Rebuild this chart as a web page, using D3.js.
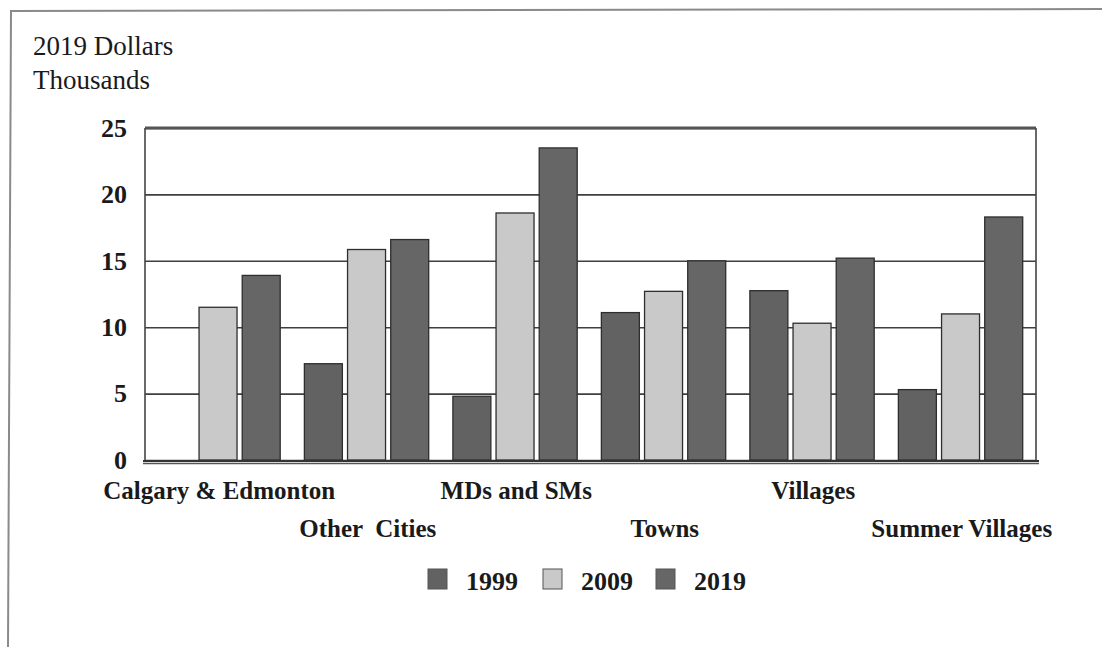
<!DOCTYPE html>
<html>
<head>
<meta charset="utf-8">
<script src="https://cdn.jsdelivr.net/npm/d3@7"></script>
<style>
  html, body { margin: 0; padding: 0; background: #fff; }
  svg { display: block; }
  text { font-family: "Liberation Serif", "Times New Roman", serif; fill: #1a1a1a; }
</style>
</head>
<body>
<svg id="chart" width="1102" height="647"></svg>
<script>
// Per-capita spending by municipality type (2019 dollars, thousands)
const categories = ["Calgary & Edmonton", "Other  Cities", "MDs and SMs", "Towns", "Villages", "Summer Villages"];
const seriesNames = ["1999", "2009", "2019"];
const values1999 = [null, 7.25, 4.8, 11.1, 12.75, 5.3];
const values2009 = [11.5, 15.85, 18.6, 12.7, 10.3, 11.0];
const values2019 = [13.9, 16.6, 23.5, 15.0, 15.2, 18.3];
const yTicks = [0, 5, 10, 15, 20, 25];
const unitLines = ["2019 Dollars", "Thousands"];

const seriesValues = [values1999, values2009, values2019];
const colors = { "1999": "#626262", "2009": "#c9c9c9", "2019": "#666666" };

const svg = d3.select("#chart");
const plot = { left: 145, right: 1036, top: 128, bottom: 460 };

// outer frame
svg.append("path")
  .attr("d", "M8,647 L11,11 L1102,9")
  .attr("fill", "none").attr("stroke", "#8a8a8a").attr("stroke-width", 2);

// unit labels
svg.selectAll("text.unit").data(unitLines).join("text")
  .attr("class", "unit")
  .attr("x", 33).attr("y", (d, i) => 55 + i * 34)
  .attr("font-size", 27)
  .text(d => d);

const x0 = d3.scaleBand().domain(categories).range([plot.left, plot.right]);
const x1 = d3.scaleBand().domain(seriesNames).range([0, x0.bandwidth()])
  .paddingInner(0.12).paddingOuter(0.28).align(0.45);
const y = d3.scaleLinear().domain([0, 25]).range([plot.bottom, plot.top]);

// gridlines and value labels
const yAxis = d3.axisLeft(y).tickValues(yTicks).tickSize(-(plot.right - plot.left)).tickPadding(18);
const gy = svg.append("g").attr("transform", `translate(${plot.left},0)`).call(yAxis);
gy.select(".domain").remove();
gy.selectAll(".tick line").attr("stroke", "#3f3f3f").attr("stroke-width", 1.6);
gy.selectAll(".tick text")
  .attr("font-family", "Liberation Serif, serif")
  .attr("font-weight", "bold").attr("font-size", 26).attr("fill", "#1a1a1a");

// bars
const groups = svg.append("g").selectAll("g").data(categories).join("g")
  .attr("transform", d => `translate(${x0(d)},0)`);
groups.selectAll("rect")
  .data((c, ci) => seriesNames.map((s, si) => ({ s, v: seriesValues[si][ci] })).filter(d => d.v != null))
  .join("rect")
  .attr("x", d => x1(d.s))
  .attr("width", x1.bandwidth())
  .attr("y", d => y(d.v))
  .attr("height", d => y(0) - y(d.v))
  .attr("fill", d => colors[d.s])
  .attr("stroke", "#2e2e2e").attr("stroke-width", 1.3);

// plot frame
svg.append("line").attr("x1", plot.left).attr("x2", plot.right).attr("y1", plot.top).attr("y2", plot.top)
  .attr("stroke", "#555").attr("stroke-width", 3);
svg.append("line").attr("x1", plot.left).attr("x2", plot.left).attr("y1", plot.top).attr("y2", plot.bottom + 2)
  .attr("stroke", "#444").attr("stroke-width", 1.6);
svg.append("line").attr("x1", plot.right).attr("x2", plot.right).attr("y1", plot.top).attr("y2", plot.bottom + 2)
  .attr("stroke", "#444").attr("stroke-width", 1.6);
svg.append("line").attr("x1", plot.left - 2).attr("x2", plot.right + 3).attr("y1", plot.bottom + 1).attr("y2", plot.bottom + 1)
  .attr("stroke", "#333").attr("stroke-width", 2);
svg.append("line").attr("x1", plot.left - 2).attr("x2", plot.right + 3).attr("y1", plot.bottom + 3.5).attr("y2", plot.bottom + 3.5)
  .attr("stroke", "#555").attr("stroke-width", 1.5);

// staggered category labels
svg.selectAll("text.cat").data(categories).join("text")
  .attr("class", "cat")
  .attr("x", d => x0(d) + x0.bandwidth() / 2)
  .attr("y", (d, i) => i % 2 === 0 ? 499 : 537)
  .attr("text-anchor", "middle")
  .attr("font-weight", "bold").attr("font-size", 25)
  .attr("xml:space", "preserve")
  .style("white-space", "pre")
  .text(d => d);

// legend
const legendX = [428, 543, 656];
const leg = svg.append("g").selectAll("g").data(seriesNames).join("g")
  .attr("transform", (d, i) => `translate(${legendX[i]},569)`);
leg.append("rect").attr("width", 19).attr("height", 20)
  .attr("fill", d => colors[d]).attr("stroke", "#555").attr("stroke-width", 1);
leg.append("text").attr("x", 38).attr("y", 21)
  .attr("font-weight", "bold").attr("font-size", 26)
  .text(d => d);
</script>
</body>
</html>
